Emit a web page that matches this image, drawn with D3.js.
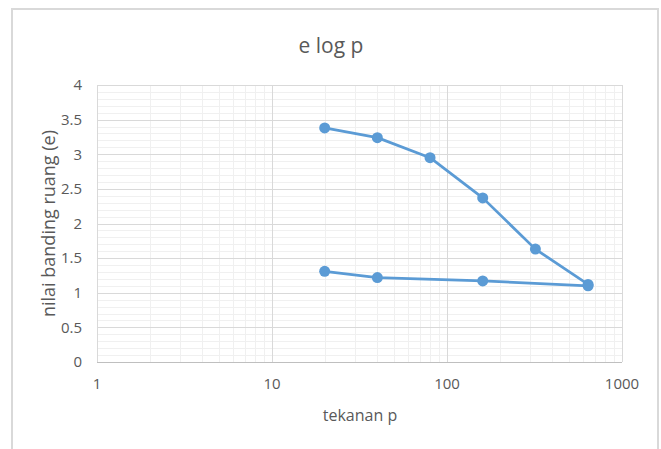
<!DOCTYPE html>
<html>
<head>
<meta charset="utf-8">
<script src="https://cdn.jsdelivr.net/npm/d3@7"></script>
<style>
  html, body { margin: 0; padding: 0; background: #fff; }
  svg { display: block; }
  text { font-family: "Liberation Sans Narrow", "Open Sans", sans-serif; fill: #595959; }
</style>
</head>
<body>
<script>
// Loading branch (pressure increasing)
const loadP = [20, 40, 80, 160, 320, 640];
const loadE = [3.38, 3.24, 2.95, 2.37, 1.63, 1.12];
// Unloading branch (pressure decreasing)
const unloadP = [640, 160, 40, 20];
const unloadE = [1.10, 1.17, 1.22, 1.31];

const xTicks = [1, 10, 100, 1000];
const yTicks = [0, 0.5, 1, 1.5, 2, 2.5, 3, 3.5, 4];

const W = 661, H = 449;
const plot = { left: 97, right: 622, top: 85, bottom: 362 };
const blue = "#5b9bd5";

const svg = d3.select("body").append("svg").attr("width", W).attr("height", H);

// chart frame
svg.append("path")
  .attr("d", `M12,${H + 2} L12,9 L658,9 L658,${H + 2}`)
  .attr("fill", "none").attr("stroke", "#d9d9d9").attr("stroke-width", 2);

const x = d3.scaleLog().domain([1, 1000]).range([plot.left, plot.right]);
const y = d3.scaleLinear().domain([0, 4]).range([plot.bottom, plot.top]);

const g = svg.append("g");

// minor gridlines
const minorY = d3.range(0, 41).map(i => i / 10).filter(v => Math.round(v * 10) % 5 !== 0);
g.selectAll("line.minY").data(minorY).enter().append("line")
  .attr("x1", plot.left).attr("x2", plot.right)
  .attr("y1", d => Math.round(y(d)) + 0.5).attr("y2", d => Math.round(y(d)) + 0.5)
  .attr("stroke", "#f0f0f0").attr("stroke-width", 1);
const minorX = [];
[1, 10, 100].forEach(dec => { for (let k = 2; k <= 9; k++) minorX.push(dec * k); });
g.selectAll("line.minX").data(minorX).enter().append("line")
  .attr("y1", plot.top).attr("y2", plot.bottom)
  .attr("x1", d => Math.round(x(d)) + 0.5).attr("x2", d => Math.round(x(d)) + 0.5)
  .attr("stroke", "#f0f0f0").attr("stroke-width", 1);

// major gridlines
g.selectAll("line.majY").data(yTicks).enter().append("line")
  .attr("x1", plot.left).attr("x2", plot.right)
  .attr("y1", d => Math.round(y(d)) + 0.5).attr("y2", d => Math.round(y(d)) + 0.5)
  .attr("stroke", "#d9d9d9").attr("stroke-width", 1);
g.selectAll("line.majX").data(xTicks).enter().append("line")
  .attr("y1", plot.top).attr("y2", plot.bottom)
  .attr("x1", d => Math.round(x(d)) + 0.5).attr("x2", d => Math.round(x(d)) + 0.5)
  .attr("stroke", "#d9d9d9").attr("stroke-width", 1);

// axis base line
g.append("line").attr("x1", plot.left).attr("x2", plot.right)
  .attr("y1", plot.bottom + 0.5).attr("y2", plot.bottom + 0.5)
  .attr("stroke", "#bfbfbf").attr("stroke-width", 1);

// y tick labels
svg.selectAll("text.yt").data(yTicks).enter().append("text")
  .attr("x", 82).attr("y", d => y(d)).attr("dy", "0.35em")
  .attr("text-anchor", "end").attr("font-size", 15)
  .text(d => d);

// x tick labels
svg.selectAll("text.xt").data(xTicks).enter().append("text")
  .attr("x", d => x(d)).attr("y", 389)
  .attr("text-anchor", "middle").attr("font-size", 15)
  .text(d => d);

// titles
svg.append("text").attr("x", 331).attr("y", 53)
  .attr("text-anchor", "middle").attr("font-size", 21).text("e log p");
svg.append("text").attr("x", 360).attr("y", 421)
  .attr("text-anchor", "middle").attr("font-size", 16).text("tekanan p");
svg.append("text")
  .attr("transform", `translate(55,${(plot.top + plot.bottom) / 2}) rotate(-90)`)
  .attr("text-anchor", "middle").attr("font-size", 18).text("nilai banding ruang (e)");

// series
const line = d3.line().x(d => x(d[0])).y(d => y(d[1]));
const series = [d3.zip(loadP, loadE), d3.zip(unloadP, unloadE)];
series.forEach(pts => {
  svg.append("path").datum(pts).attr("d", line)
    .attr("fill", "none").attr("stroke", blue).attr("stroke-width", 2.75)
    .attr("stroke-linejoin", "round");
  svg.selectAll(null).data(pts).enter().append("circle")
    .attr("cx", d => x(d[0])).attr("cy", d => y(d[1])).attr("r", 5.5)
    .attr("fill", blue);
});
</script>
</body>
</html>
